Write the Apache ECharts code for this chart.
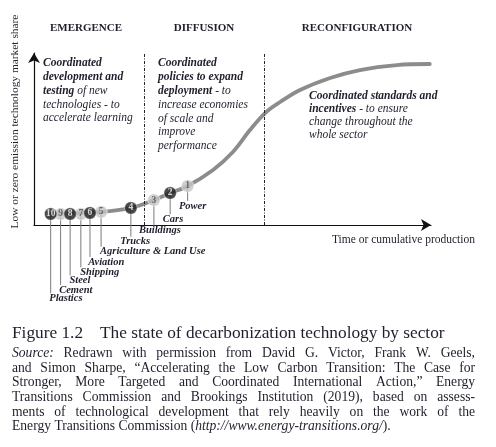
<!DOCTYPE html>
<html>
<head>
<meta charset="utf-8">
<script src="https://cdn.jsdelivr.net/npm/echarts@6/dist/echarts.min.js"></script>
<style>
html,body{margin:0;padding:0;background:#fff;}
#chart{width:496px;height:447px;}
</style>
</head>
<body>
<div id="chart"></div>
<script>
// ---------- DATA ----------
const PHASES = ['EMERGENCE', 'DIFFUSION', 'RECONFIGURATION'];
const PHASE_BOUNDS = [27.7, 57.9];           // x positions of phase dividers (axis units)
const SECTORS = ['Power', 'Cars', 'Buildings', 'Trucks', 'Agriculture & Land Use',
                 'Aviation', 'Shipping', 'Steel', 'Cement', 'Plastics'];
const RANKS = [1, 2, 3, 4, 5, 6, 7, 8, 9, 10];
const SECTOR_X = [38.7, 34.3, 30.2, 24.4, 16.9, 14.1, 11.8, 9.1, 6.7, 4.2];
const SECTOR_Y = [22.7, 18.6, 14.5, 9.9, 7.6, 7.0, 6.4, 6.4, 6.4, 6.4];
const CURVE_X = [4.2, 16.9, 24.4, 30.2, 34.3, 38.7, 45.1, 50.1, 54.4, 58.2, 62.0, 67.0, 74.6, 82.1, 91.4, 99.7];
const CURVE_Y = [6.4, 7.6, 9.9, 14.5, 18.6, 22.7, 32.0, 42.4, 55.2, 65.1, 71.5, 78.5, 85.5, 90.1, 93.0, 93.6];

// ---------- LAYOUT / STYLE ----------
const LABEL_Y = [206, 219.3, 230.7, 241.7, 251.7, 262, 272.3, 280.5, 290, 298.3];
const LABEL_DX = [-8.7, -7.3, -15, -10.7, -1, -1.7, -0.7, -0.7, -1.4, -1.4];
const SERIF = '"Liberation Serif", "Times New Roman", serif';
const INK = '#1f1e2c';

const chart = echarts.init(document.getElementById('chart'), null, {renderer: 'canvas'});

const ctx = document.createElement('canvas').getContext('2d');
function measure(t, font) { ctx.font = font; return ctx.measureText(t).width; }

const graphics = [];

// phase headers
const PHASE_CX = [86, 204, 357];
PHASES.forEach((p, i) => {
  graphics.push({type: 'text', x: PHASE_CX[i], y: 28, style: {
    text: p, font: 'bold 11px ' + SERIF, fill: INK, align: 'center', verticalAlign: 'middle'}});
});

// text blocks
const richStyles = {
  b: {font: 'italic bold 11.5px ' + SERIF, fill: INK},
  r: {font: 'italic 11.5px ' + SERIF, fill: INK}
};
function block(x, y0, lh, lines) {
  lines.forEach((ln, i) => {
    graphics.push({type: 'text', x: x, y: y0 + i * lh, style: {
      text: ln, rich: richStyles, font: 'italic 11.5px ' + SERIF, fill: INK,
      align: 'left', verticalAlign: 'middle'}});
  });
}
block(43, 63.3, 13.75, [
  '{b|Coordinated}',
  '{b|development and}',
  '{b|testing}{r| of new}',
  '{r|technologies - to}',
  '{r|accelerate learning}'
]);
block(158, 63.3, 13.8, [
  '{b|Coordinated}',
  '{b|policies to expand}',
  '{b|deployment}{r| - to}',
  '{r|increase economies}',
  '{r|of scale and}',
  '{r|improve}',
  '{r|performance}'
]);
block(309, 95.7, 13.1, [
  '{b|Coordinated standards and}',
  '{b|incentives}{r| - to ensure}',
  '{r|change throughout the}',
  '{r|whole sector}'
]);

// axis titles
graphics.push({type: 'text', x: 15, y: 121.5, rotation: Math.PI / 2, style: {
  text: 'Low or zero emission technology market share', font: '11.4px ' + SERIF,
  fill: INK, align: 'center', verticalAlign: 'middle'}});
graphics.push({type: 'text', x: 332, y: 240, style: {
  text: 'Time or cumulative production', font: '11.5px ' + SERIF,
  fill: INK, align: 'left', verticalAlign: 'middle'}});

// caption
const figTitle = 'The state of decarbonization technology by sector';
const figSize = 10 * 345 / measure(figTitle, '10px ' + SERIF);
graphics.push({type: 'text', x: 12, y: 333, style: {
  text: 'Figure 1.2', font: figSize.toFixed(2) + 'px ' + SERIF, fill: INK, verticalAlign: 'middle'}});
graphics.push({type: 'text', x: 100, y: 333, style: {
  text: figTitle, font: figSize.toFixed(2) + 'px ' + SERIF, fill: INK, verticalAlign: 'middle'}});

const SOURCE_LINES = [
  '_Source:_ Redrawn with permission from David G. Victor, Frank W. Geels,',
  'and Simon Sharpe, \u201CAccelerating the Low Carbon Transition: The Case for',
  'Stronger, More Targeted and Coordinated International Action,\u201D Energy',
  'Transitions Commission and Brookings Institution (2019), based on assess-',
  'ments of technological development that rely heavily on the work of the',
  'Energy Transitions Commission (_http://www.energy-transitions.org/_).'
];
function parseWord(w) {
  const parts = w.split('_');
  return parts.map((t, k) => ({t: t, it: k % 2 === 1})).filter(s => s.t.length);
}
const CAP_X = 12, CAP_W = 463;
let capSize = 100;
SOURCE_LINES.slice(0, 5).forEach(l => {
  const plain = l.replace(/_/g, '');
  const s = 10 * (CAP_W - 4) / measure(plain, '10px ' + SERIF);
  capSize = Math.min(capSize, s);
});
capSize = Math.min(capSize, 13.6);
function fontFor(it) { return (it ? 'italic ' : '') + capSize.toFixed(2) + 'px ' + SERIF; }
SOURCE_LINES.forEach((l, li) => {
  const y = 353.5 + li * 14.65;
  const words = l.split(' ').map(parseWord);
  const widths = words.map(ws => ws.reduce((a, s) => a + measure(s.t, fontFor(s.it)), 0));
  const total = widths.reduce((a, b) => a + b, 0);
  const justify = li < SOURCE_LINES.length - 1;
  const gap = justify ? (CAP_W - total) / (words.length - 1) : measure(' ', fontFor(false));
  let x = CAP_X;
  words.forEach((ws, wi) => {
    let xx = x;
    ws.forEach(s => {
      graphics.push({type: 'text', x: xx, y: y, style: {
        text: s.t, font: fontFor(s.it), fill: INK, verticalAlign: 'middle'}});
      xx += measure(s.t, fontFor(s.it));
    });
    x += widths[wi] + gap;
  });
});

const sectorData = SECTORS.map((s, i) => [SECTOR_X[i], SECTOR_Y[i], RANKS[i]]);
const darkData = sectorData.filter(d => d[2] % 2 === 0);
const lightData = sectorData.filter(d => d[2] % 2 === 1);

const axisCommon = {
  type: 'value', min: 0, max: 100,
  axisTick: {show: false}, axisLabel: {show: false}, splitLine: {show: false},
  axisLine: {show: true, symbol: ['none', 'arrow'], symbolSize: [9, 10],
    lineStyle: {color: '#111', width: 1.2}}
};

const option = {
  backgroundColor: '#fff',
  animation: false,
  grid: {left: 34, right: 65, top: 53, bottom: 222, containLabel: false},
  xAxis: Object.assign({}, axisCommon),
  yAxis: Object.assign({}, axisCommon),
  graphic: graphics,
  series: [
    {
      type: 'line', silent: true, z: 2,
      data: [],
      markLine: {
        silent: true, symbol: 'none', label: {show: false},
        lineStyle: {color: '#222', width: 1, type: [3, 1.5, 1, 1.5]},
        data: PHASE_BOUNDS.map(b => ({xAxis: b}))
      }
    },
    {
      type: 'custom', z: 3, silent: true,
      data: sectorData,
      renderItem: function (params, api) {
        const i = params.dataIndex;
        const p = api.coord([api.value(0), api.value(1)]);
        const ly = LABEL_Y[i];
        return {type: 'group', children: [
          {type: 'line', shape: {x1: p[0], y1: p[1], x2: p[0], y2: ly - 5},
            style: {stroke: '#7b7b7b', lineWidth: 1}},
          {type: 'text', x: p[0] + LABEL_DX[i], y: ly, style: {
            text: SECTORS[i], font: 'italic bold 10.5px ' + SERIF, fill: INK,
            align: 'left', verticalAlign: 'middle'}}
        ]};
      }
    },
    {
      type: 'line', z: 4, silent: true,
      data: CURVE_X.map((x, i) => [x, CURVE_Y[i]]),
      smooth: 0.35, symbol: 'none',
      lineStyle: {color: '#8c8c8c', width: 3.8, cap: 'round'}
    },
    {
      type: 'scatter', z: 5, silent: true,
      data: lightData, symbolSize: 12.5,
      itemStyle: {color: '#c6c6c6', borderColor: '#fff', borderWidth: 0.6},
      label: {show: true, position: 'inside', formatter: p => String(p.value[2]),
        fontFamily: SERIF, fontWeight: 'bold', fontSize: 9.5, color: '#4e4e4e'}
    },
    {
      type: 'scatter', z: 6, silent: true,
      data: darkData, symbolSize: 12.5,
      itemStyle: {color: '#1b1b1b', borderColor: '#fff', borderWidth: 0.6},
      label: {show: true, position: 'inside', formatter: p => String(p.value[2]),
        fontFamily: SERIF, fontWeight: 'bold', fontSize: 9.5, color: '#fff'}
    }
  ]
};
chart.setOption(option);
</script>
</body>
</html>
